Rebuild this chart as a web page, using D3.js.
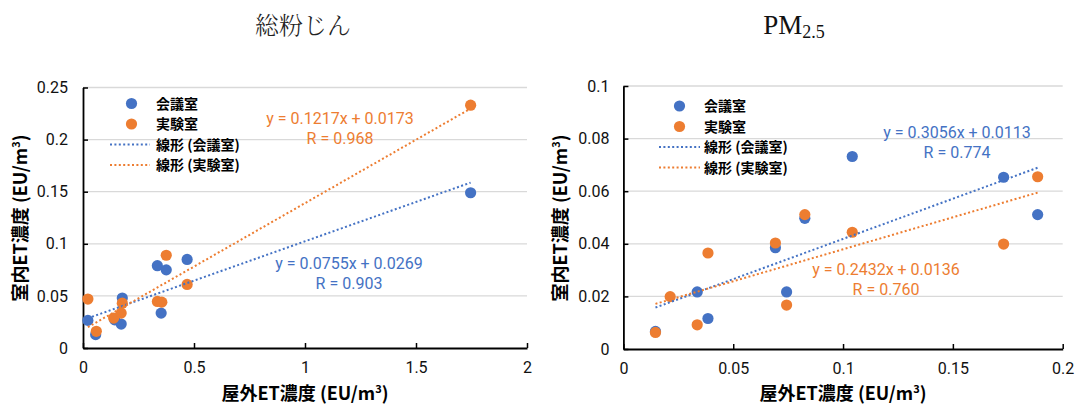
<!DOCTYPE html>
<html>
<head>
<meta charset="utf-8">
<script src="https://cdn.jsdelivr.net/npm/d3@7"></script>
<style>
  body { margin: 0; background: #fff; }
  svg { display: block; }
</style>
</head>
<body>
<svg id="chart" width="1079" height="407"></svg>
<script>
// DATA
const seriesNames = ["会議室", "実験室"];
const trendNames = ["線形 (会議室)", "線形 (実験室)"];
const colors = ["#4472C4", "#ED7D31"];

// 総粉じん
const dustMeetX = [0.022, 0.057, 0.143, 0.177, 0.172, 0.335, 0.375, 0.352, 0.469, 1.746];
const dustMeetY = [0.0265, 0.0128, 0.027, 0.048, 0.023, 0.079, 0.075, 0.0335, 0.085, 0.149];
const dustLabX = [0.022, 0.06, 0.138, 0.177, 0.172, 0.335, 0.355, 0.375, 0.469, 1.746];
const dustLabY = [0.047, 0.016, 0.0287, 0.043, 0.0335, 0.0447, 0.044, 0.089, 0.061, 0.233];
const dustFit = [{ a: 0.0755, b: 0.0269, r: "0.903" }, { a: 0.1217, b: 0.0173, r: "0.968" }];
const dustXTicks = [0, 0.5, 1, 1.5, 2];
const dustYTicks = [0, 0.05, 0.1, 0.15, 0.2, 0.25];

// PM2.5
const pmMeetX = [0.0146, 0.0336, 0.0385, 0.0692, 0.0743, 0.0826, 0.1042, 0.1731, 0.1886];
const pmMeetY = [0.0067, 0.0217, 0.0116, 0.0385, 0.0217, 0.0497, 0.0732, 0.0653, 0.0511];
const pmLabX = [0.0146, 0.0213, 0.0336, 0.0385, 0.0692, 0.0743, 0.0826, 0.1042, 0.1731, 0.1886];
const pmLabY = [0.0063, 0.0199, 0.0092, 0.0365, 0.0403, 0.0167, 0.0511, 0.0444, 0.0399, 0.0655];
const pmFit = [{ a: 0.3056, b: 0.0113, r: "0.774" }, { a: 0.2432, b: 0.0136, r: "0.760" }];
const pmXTicks = [0, 0.05, 0.1, 0.15, 0.2];
const pmYTicks = [0, 0.02, 0.04, 0.06, 0.08, 0.1];

// CANVAS SETUP
const svg = d3.select("#chart");
const fontSans = "'Noto Sans CJK JP', 'Noto Sans', sans-serif";
const fontTick = "Roboto, 'Noto Sans', sans-serif";

const zip = (xs, ys) => xs.map((v, i) => ({ x: v, y: ys[i] }));

function drawPanel(cfg) {
  const x = d3.scaleLinear().domain(cfg.xDomain).range([cfg.left, cfg.right]);
  const y = d3.scaleLinear().domain(cfg.yDomain).range([cfg.bottom, cfg.top]);
  const g = svg.append("g");

  // grid
  g.append("g")
    .selectAll("line")
    .data(cfg.yTicks.slice(1))
    .join("line")
    .attr("x1", cfg.left)
    .attr("x2", cfg.right)
    .attr("y1", (d) => y(d))
    .attr("y2", (d) => y(d))
    .attr("stroke", "#d9d9d9")
    .attr("stroke-width", 1.3);

  // axes
  const gx = g
    .append("g")
    .attr("transform", `translate(0,${cfg.bottom})`)
    .call(
      d3.axisBottom(x).tickValues(cfg.xTicks).tickSizeInner(-5).tickSizeOuter(0)
        .tickPadding(14).tickFormat(d3.format("~g"))
    );
  const gy = g
    .append("g")
    .attr("transform", `translate(${cfg.left},0)`)
    .call(
      d3.axisLeft(y).tickValues(cfg.yTicks).tickSizeInner(-5).tickSizeOuter(0)
        .tickPadding(cfg.yPad).tickFormat(d3.format("~g"))
    );
  [gx, gy].forEach((a) => {
    a.select(".domain").attr("stroke", "#000").attr("stroke-width", 1.8);
    a.selectAll(".tick line").attr("stroke", "#000").attr("stroke-width", 1.5);
    a.selectAll(".tick text")
      .attr("font-family", fontTick)
      .attr("font-size", 16)
      .attr("fill", "#111");
  });

  // points
  cfg.series.forEach((s, i) => {
    g.append("g")
      .selectAll("circle")
      .data(s)
      .join("circle")
      .attr("cx", (d) => x(d.x))
      .attr("cy", (d) => y(d.y))
      .attr("r", 5.6)
      .attr("fill", colors[i]);
  });

  // trend lines
  cfg.series.forEach((s, i) => {
    const f = cfg.fits[i];
    const [x0, x1] = d3.extent(s, (d) => d.x);
    g.append("line")
      .attr("x1", x(x0))
      .attr("x2", x(x1))
      .attr("y1", y(f.a * x0 + f.b))
      .attr("y2", y(f.a * x1 + f.b))
      .attr("stroke", colors[i])
      .attr("stroke-width", 2)
      .attr("stroke-dasharray", "2 2.4");
  });

  // equations
  cfg.fits.forEach((f, i) => {
    const t = g
      .append("text")
      .attr("text-anchor", "middle")
      .attr("font-family", fontTick)
      .attr("font-size", 16)
      .attr("fill", colors[i]);
    t.append("tspan")
      .attr("x", cfg.eq[i][0])
      .attr("y", cfg.eq[i][1])
      .text(`y = ${f.a}x + ${f.b}`);
    t.append("tspan")
      .attr("x", cfg.eq[i][0])
      .attr("y", cfg.eq[i][1] + 20)
      .text(`R = ${f.r}`);
  });

  // legend
  const lg = g.append("g").attr("font-family", fontSans).attr("font-size", 14).attr("font-weight", 700);
  seriesNames.forEach((n, i) => {
    const yy = cfg.legend.y + i * 20.5;
    lg.append("circle").attr("cx", cfg.legend.mx).attr("cy", yy).attr("r", 5.6).attr("fill", colors[i]);
    lg.append("text").attr("x", cfg.legend.tx).attr("y", yy).attr("dy", "0.36em").text(n);
  });
  trendNames.forEach((n, i) => {
    const yy = cfg.legend.y + 41 + i * 20.5;
    lg.append("line")
      .attr("x1", cfg.legend.l0)
      .attr("x2", cfg.legend.l1)
      .attr("y1", yy)
      .attr("y2", yy)
      .attr("stroke", colors[i])
      .attr("stroke-width", 2)
      .attr("stroke-dasharray", "2 2.4");
    lg.append("text").attr("x", cfg.legend.tx).attr("y", yy).attr("dy", "0.36em").text(n);
  });

  // axis titles
  const xt = g
    .append("text")
    .attr("x", cfg.xTitleX)
    .attr("y", 400)
    .attr("text-anchor", "middle")
    .attr("font-family", fontSans)
    .attr("font-size", 18)
    .attr("font-weight", 700);
  xt.append("tspan").text("屋外ET濃度 (EU/m");
  xt.append("tspan").attr("dy", -7).attr("font-size", 11).text("3");
  xt.append("tspan").attr("dy", 7).text(")");

  const yt = g
    .append("text")
    .attr("transform", `translate(${cfg.yTitleX},218) rotate(-90)`)
    .attr("text-anchor", "middle")
    .attr("dy", "0.36em")
    .attr("font-family", fontSans)
    .attr("font-size", 18)
    .attr("font-weight", 700);
  yt.append("tspan").text("室内ET濃度 (EU/m");
  yt.append("tspan").attr("dy", -7).attr("font-size", 11).text("3");
  yt.append("tspan").attr("dy", 7).text(")");
}

drawPanel({
  xDomain: [0, 2],
  yDomain: [0, 0.25],
  xTicks: dustXTicks,
  yTicks: dustYTicks,
  left: 83,
  right: 527,
  top: 87.5,
  bottom: 348,
  yPad: 15,
  series: [zip(dustMeetX, dustMeetY), zip(dustLabX, dustLabY)],
  fits: dustFit,
  eq: [[349, 269], [340, 124]],
  legend: { y: 103.5, mx: 131.5, tx: 156, l0: 110, l1: 150 },
  xTitleX: 305,
  yTitleX: 21,
});

drawPanel({
  xDomain: [0, 0.2],
  yDomain: [0, 0.1],
  xTicks: pmXTicks,
  yTicks: pmYTicks,
  left: 623.4,
  right: 1062.7,
  top: 86,
  bottom: 349,
  yPad: 14,
  series: [zip(pmMeetX, pmMeetY), zip(pmLabX, pmLabY)],
  fits: pmFit,
  eq: [[957, 138], [886, 275]],
  legend: { y: 106, mx: 679.5, tx: 704, l0: 659, l1: 700 },
  xTitleX: 843,
  yTitleX: 561,
});

// chart titles
svg.append("text")
  .attr("x", 303)
  .attr("y", 34)
  .attr("text-anchor", "middle")
  .attr("font-family", "'Noto Serif CJK JP', 'Noto Sans CJK JP', serif")
  .attr("font-size", 24)
  .attr("font-weight", 300)
  .attr("fill", "#222")
  .text("総粉じん");

const pm = svg.append("text")
  .attr("x", 794)
  .attr("y", 34)
  .attr("text-anchor", "middle")
  .attr("font-family", "'Liberation Serif', 'DejaVu Serif', serif")
  .attr("font-size", 27)
  .attr("fill", "#111");
pm.append("tspan").text("PM");
pm.append("tspan").attr("dy", 4).attr("font-size", 18).text("2.5");
</script>
</body>
</html>
